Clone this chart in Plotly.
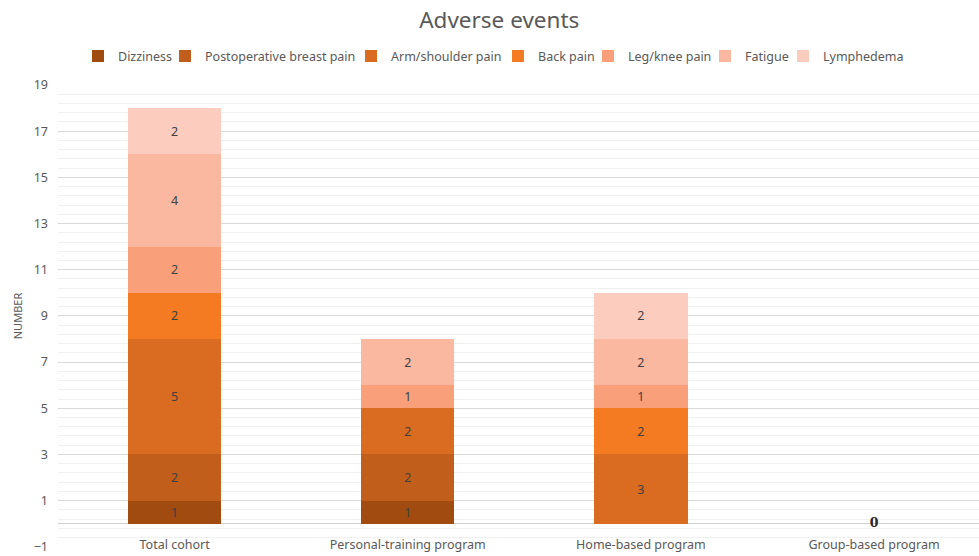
import plotly.graph_objects as go

categories = ["Total cohort", "Personal-training program", "Home-based program", "Group-based program"]
series_names = ["Dizziness", "Postoperative breast pain", "Arm/shoulder pain", "Back pain",
                "Leg/knee pain", "Fatigue", "Lymphedema"]
dizziness = [1, 1, 0, 0]
postop_breast_pain = [2, 2, 0, 0]
arm_shoulder_pain = [5, 2, 3, 0]
back_pain = [2, 0, 2, 0]
leg_knee_pain = [2, 1, 1, 0]
fatigue = [4, 2, 2, 0]
lymphedema = [2, 0, 2, 0]
group_total_category = ["Group-based program"]
group_total_value = [0]

series_values = [dizziness, postop_breast_pain, arm_shoulder_pain, back_pain,
                 leg_knee_pain, fatigue, lymphedema]
colors = ["#A24B10", "#C25E1B", "#DA6C21", "#F47B21", "#F9A07B", "#FBB8A0", "#FCCDBF"]
# left edge (px) of each legend entry's square in the layout
legend_square_px = [105, 192, 378, 525, 615, 732, 810]

FONT = "Noto Sans"
GRAY = "#595959"
W, H = 979, 556
ML, MR, MT, MB = 58, 0, 85, 9
plot_w = W - ML - MR

fig = go.Figure()
legend_layouts = {}
for i, (name, vals, col) in enumerate(zip(series_names, series_values, colors)):
    lname = "legend" if i == 0 else "legend%d" % (i + 1)
    fig.add_trace(go.Bar(
        name=name, x=categories, y=vals, marker=dict(color=col, line=dict(width=0)),
        text=[str(v) if v else "" for v in vals], textposition="inside",
        insidetextanchor="middle", textangle=0,
        textfont=dict(family=FONT, size=12.5, color="#404040"),
        legend=lname,
    ))
    legend_layouts[lname] = dict(
        orientation="h", x=(legend_square_px[i] - 27 - ML) / plot_w, xanchor="left",
        y=1.062, yanchor="middle", bgcolor="rgba(0,0,0,0)",
        font=dict(family=FONT, size=12.5, color=GRAY), itemwidth=30,
    )

fig.add_trace(go.Scatter(
    x=group_total_category, y=group_total_value, mode="text", xaxis="x2", yaxis="y",
    text=["<b>%d</b>" % v for v in group_total_value], textposition="middle center",
    textfont=dict(family="DejaVu Serif", size=12.5, color="#262626"),
    showlegend=False, hoverinfo="skip",
))

fig.update_layout(
    width=W, height=H,
    barmode="stack", bargap=0.6,
    plot_bgcolor="white", paper_bgcolor="white",
    margin=dict(l=ML, r=MR, t=MT, b=MB, autoexpand=False),
    title=dict(text="Adverse events", x=0.51, xanchor="center", y=0.964, yanchor="middle",
               font=dict(family=FONT, size=22.5, color=GRAY)),
    font=dict(family=FONT, color=GRAY),
    uniformtext=dict(minsize=8, mode="show"),
    **legend_layouts,
)
fig.update_layout(
    xaxis=dict(
        type="category", categoryorder="array", categoryarray=categories,
        range=[-0.5, 3.45], showgrid=False, showline=False, zeroline=False,
        ticks="", showticklabels=False, automargin=False,
    ),
    xaxis2=dict(
        type="category", categoryorder="array", categoryarray=categories,
        matches="x", overlaying="x", anchor="free", position=0.024, side="bottom",
        showgrid=False, showline=False, zeroline=False, ticks="", automargin=False,
        tickfont=dict(family=FONT, size=12.5, color=GRAY),
    ),
)
fig.update_yaxes(
    range=[-1.01, 19], tick0=-1, dtick=2, showgrid=True, gridcolor="#D9D9D9", gridwidth=1,
    zeroline=True, zerolinecolor="#D0D0D0", zerolinewidth=1,
    minor=dict(dtick=0.4, tick0=-1, showgrid=True, gridcolor="#F0F0F0", gridwidth=1),
    showline=False, ticks="", ticklabelstandoff=9, ticklabeloverflow="allow", automargin=False,
    tickfont=dict(family=FONT, size=12.5, color=GRAY),
    title=dict(text="NUMBER", font=dict(family=FONT, size=11, color=GRAY), standoff=8),
)

fig.write_html("out.html")
